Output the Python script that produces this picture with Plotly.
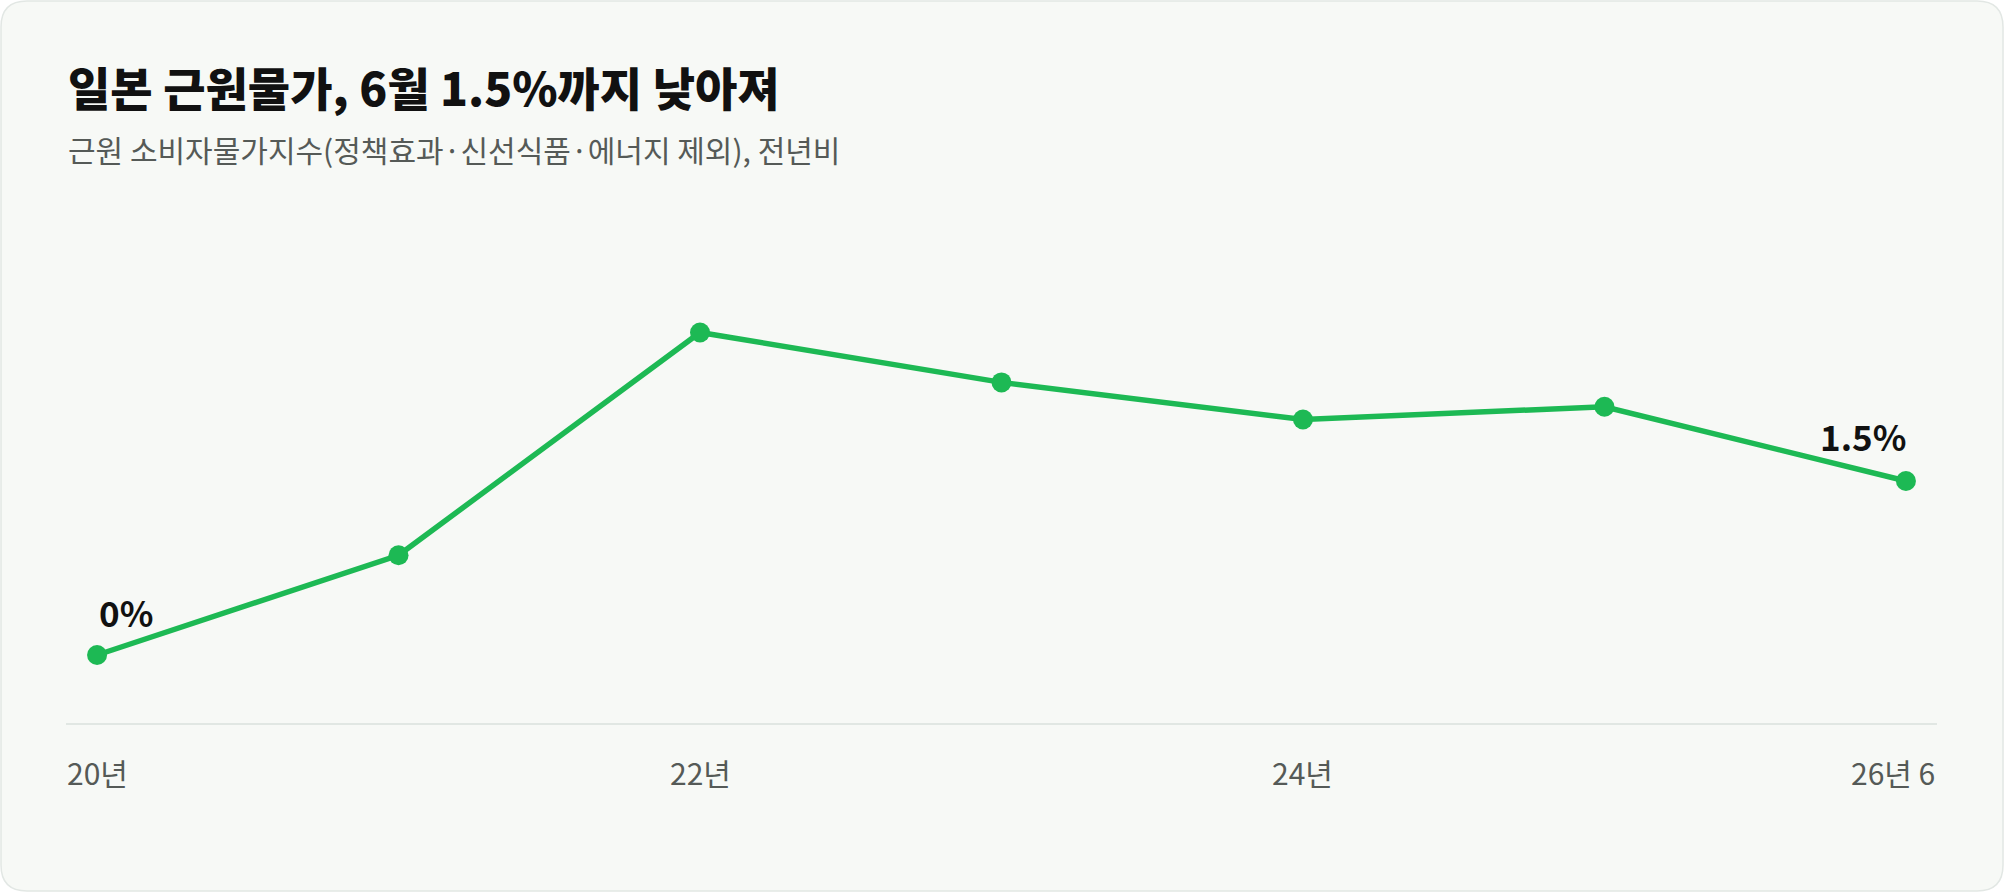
import plotly.graph_objects as go

# 일본 근원 CPI (정책효과·신선식품·에너지 제외), 전년비 %
periods = ["20년", "21년", "22년", "23년", "24년", "25년", "26년 6"]
values = [0.0, 0.86, 2.78, 2.35, 2.03, 2.14, 1.5]
tick_pos = [0, 2, 4]
tick_text = ["20년", "22년", "24년"]
last_label = "26년 6"

title = "일본 근원물가, 6월 1.5%까지 낮아져"
subtitle = "근원 소비자물가지수(정책효과·신선식품·에너지 제외), 전년비"

W, H = 2004, 892
L, R, T, B = 66, 67, 200, 169
pw, ph = W - L - R, H - T - B

GREEN = "#1db954"
FONT = "Noto Sans CJK KR"


def px2paper(px, py):
    return (px - L) / pw, (H - B - py) / ph


def card_path(x0, y0, x1, y1, r):
    pts = []
    def p(x, y):
        a, b = px2paper(x, y)
        return f"{a:.5f},{b:.5f}"
    pts.append("M" + p(x0 + r, y0))
    pts.append("L" + p(x1 - r, y0))
    pts.append("Q" + p(x1, y0) + " " + p(x1, y0 + r))
    pts.append("L" + p(x1, y1 - r))
    pts.append("Q" + p(x1, y1) + " " + p(x1 - r, y1))
    pts.append("L" + p(x0 + r, y1))
    pts.append("Q" + p(x0, y1) + " " + p(x0, y1 - r))
    pts.append("L" + p(x0, y0 + r))
    pts.append("Q" + p(x0, y0) + " " + p(x0 + r, y0))
    return " ".join(pts) + " Z"


xs = list(range(len(values)))

fig = go.Figure()
fig.add_trace(go.Scatter(
    x=xs, y=values, mode="lines+markers",
    line=dict(color=GREEN, width=5.5),
    marker=dict(color=GREEN, size=20),
    hoverinfo="skip", cliponaxis=False,
))

annotations = [
    dict(text=title, xref="paper", yref="paper", x=px2paper(66, 0)[0], y=px2paper(0, 86)[1],
         xanchor="left", yanchor="middle", showarrow=False,
         font=dict(family=FONT, size=46, color="#111111", weight=800)),
    dict(text=subtitle, xref="paper", yref="paper", x=px2paper(66, 0)[0], y=px2paper(0, 149)[1],
         xanchor="left", yanchor="middle", showarrow=False,
         font=dict(family=FONT, size=30, color="#555a57")),
    dict(text=f"{values[0]:g}%", xref="x", yref="y", x=xs[0], y=values[0],
         xanchor="left", yanchor="middle", yshift=44, xshift=0, showarrow=False,
         font=dict(family=FONT, size=35, color="#111111", weight=700)),
    dict(text=f"{values[-1]:g}%", xref="x", yref="y", x=xs[-1], y=values[-1],
         xanchor="right", yanchor="middle", yshift=45, xshift=2, showarrow=False,
         font=dict(family=FONT, size=35, color="#111111", weight=700)),
]
for pos, txt in zip(tick_pos, tick_text):
    annotations.append(dict(text=txt, xref="x", yref="paper", x=pos, y=px2paper(0, 772)[1],
                            xanchor="center", yanchor="middle", showarrow=False,
                            font=dict(family=FONT, size=30, color="#555a57")))
annotations.append(dict(text=last_label, xref="paper", yref="paper", x=1, y=px2paper(0, 772)[1],
                        xanchor="right", yanchor="middle", showarrow=False,
                        font=dict(family=FONT, size=30, color="#555a57")))

fig.update_layout(
    width=W, height=H,
    margin=dict(l=L, r=R, t=T, b=B),
    paper_bgcolor="#ffffff",
    plot_bgcolor="rgba(0,0,0,0)",
    showlegend=False,
    annotations=annotations,
    shapes=[dict(type="path", xref="paper", yref="paper", layer="below",
                 path=card_path(1, 1, W - 1, H - 1, 26),
                 fillcolor="#f7f9f6", line=dict(color="#e2e7e4", width=1.5))],
    xaxis=dict(range=[-0.103, 6.103], showgrid=False, zeroline=False,
               showticklabels=False, ticks="", showline=True,
               linecolor="#e1e7e3", linewidth=1.5, fixedrange=True),
    yaxis=dict(range=[-0.586, 3.922], showgrid=False, zeroline=False,
               showticklabels=False, ticks="", showline=False, fixedrange=True),
)

# 페이지 기본 여백 제거
fig.write_html("out.html", config={"displayModeBar": False},
               post_script="document.body.style.margin='0';")
